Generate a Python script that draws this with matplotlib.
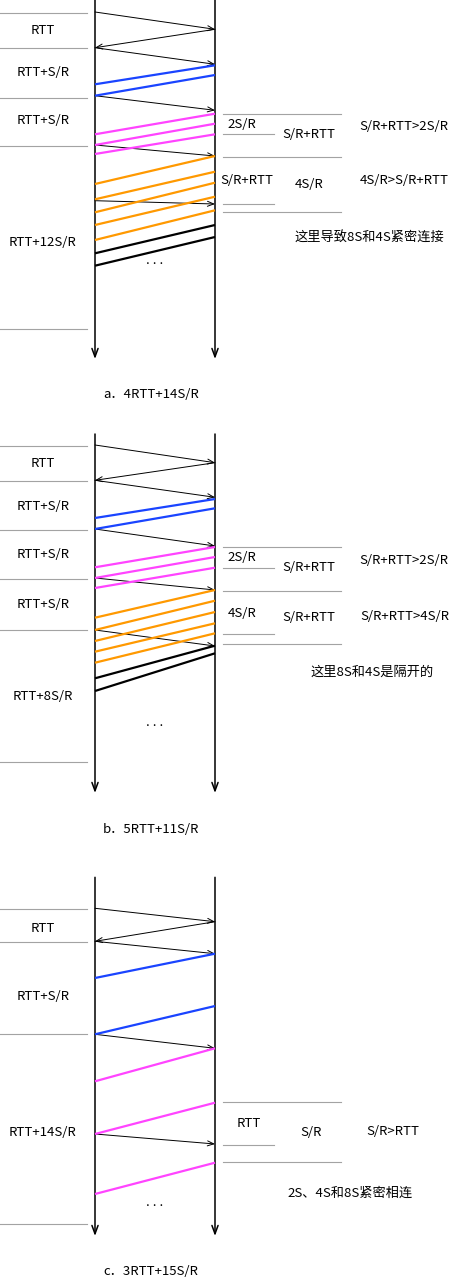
"""Slow-start timing diagrams for three cases (a, b, c)."""

import matplotlib

matplotlib.use("Agg")

import matplotlib.pyplot as plt
from matplotlib.patches import FancyArrowPatch

plt.rcParams["font.family"] = ["Noto Sans CJK SC", "DejaVu Sans"]

# x positions of client / server timelines
X_CLIENT = 95
X_SERVER = 215

GRAY = "#a3a3a3"
BLUE = "#1a44ff"
MAGENTA = "#ff44ff"
ORANGE = "#ff9900"
BLACK = "#000000"

# ---- panel a ----
a_axis = (0, 359)
a_left_rules = [13.3, 48.3, 97.7, 146, 329.3]
a_left_labels = ["RTT", "RTT+S/R", "RTT+S/R", "RTT+12S/R"]
a_left_label_y = [31, 72.7, 120.7, 242.7]
a_requests = [("L", 12, 29.3), ("R", 29.3, 47.7), ("L", 47.7, 64.3),
              ("L", 95.7, 110.3), ("L", 145, 156), ("L", 200.7, 204)]
a_segments = {
    BLUE: ([65.3, 75], [84.3, 95.7]),
    MAGENTA: ([113.7, 123.7, 134.3], [134.3, 145, 154]),
    ORANGE: ([156, 171.7, 182.7, 196.7, 210.3], [184, 199.3, 212.3, 225, 240]),
    BLACK: ([225, 237], [253.3, 265.7]),
}
a_long_rules = [113.7, 157, 212.3]
a_short_rules = [134.3, 204]
a_notes = [("2S/R", 242, 124.3), ("S/R+RTT", 309, 135), ("S/R+RTT>2S/R", 404, 126.7),
           ("S/R+RTT", 246.7, 180), ("4S/R", 309, 185), ("4S/R>S/R+RTT", 404, 181),
           ("这里导致8S和4S紧密连接", 369, 238.7)]
a_dots_y = 262.7
a_caption = ("a．4RTT+14S/R", 395)

# ---- panel b ----
b_axis = (434, 793)
b_left_rules = [446.3, 481.3, 530.3, 579.3, 630.3, 762.3]
b_left_labels = ["RTT", "RTT+S/R", "RTT+S/R", "RTT+S/R", "RTT+8S/R"]
b_left_label_y = [463.3, 506, 555, 604.3, 696]
b_requests = [("L", 445, 462.7), ("R", 462.7, 480.3), ("L", 480.3, 497.3),
              ("L", 529, 546), ("L", 578, 590), ("L", 630, 646)]
b_segments = {
    BLUE: ([499, 508.3], [518, 529]),
    MAGENTA: ([547, 557, 567.7], [567.3, 578, 588]),
    ORANGE: ([590, 600.7, 612, 623.3, 633.3], [617.7, 630, 641, 651.7, 662.7]),
    BLACK: ([645.7, 653.3], [678.3, 691]),
}
b_long_rules = [547.3, 591.3, 644.3]
b_short_rules = [568.3, 634.3]
b_notes = [("2S/R", 242, 557.7), ("S/R+RTT", 309, 567.7), ("S/R+RTT>2S/R", 404, 560),
           ("4S/R", 242, 613.3), ("S/R+RTT", 309, 617.7), ("S/R+RTT>4S/R", 405, 616.7),
           ("这里8S和4S是隔开的", 371.7, 672.7)]
b_dots_y = 725
b_caption = ("b．5RTT+11S/R", 829.3)

# ---- panel c ----
c_axis = (877.3, 1236)
c_left_rules = [909.3, 942, 1034.3, 1224.3]
c_left_labels = ["RTT", "RTT+S/R", "RTT+14S/R"]
c_left_label_y = [928.7, 996, 1132.3]
c_requests = [("L", 908.3, 921.7), ("R", 921.7, 941.3), ("L", 941.3, 953.7),
              ("L", 1034.3, 1048.3), ("L", 1134, 1144)]
c_segments = {
    BLUE: ([953.7, 1006], [978, 1034.3]),
    MAGENTA: ([1048.3, 1102.7, 1162.7], [1081.3, 1134, 1194]),
}
c_long_rules = [1102.3, 1162]
c_short_rules = [1145.3]
c_notes = [("RTT", 249, 1123.3), ("S/R", 311, 1132.3), ("S/R>RTT", 393, 1131.7),
           ("2S、4S和8S紧密相连", 350, 1193.3)]
c_dots_y = 1204
c_caption = ("c．3RTT+15S/R", 1271.7)

FS = 9.5


def arrow(ax, x0, y0, x1, y1, lw, head_len, head_w):
    style = f"->,head_length={head_len},head_width={head_w}"
    ax.add_patch(FancyArrowPatch((x0, y0), (x1, y1), arrowstyle=style,
                                 mutation_scale=10, lw=lw, color="black",
                                 shrinkA=0, shrinkB=0))


def draw_panel(ax, axis, left_rules, labels, label_y, requests, segments,
               long_rules, short_rules, notes, dots_y, caption):
    top, bottom = axis
    for x in (X_CLIENT, X_SERVER):
        arrow(ax, x, top, x, bottom, 1.1, 0.6, 0.22)
    for y in left_rules:
        ax.plot([0, 87], [y, y], color=GRAY, lw=0.8)
    for text, y in zip(labels, label_y):
        ax.text(43, y, text, ha="center", va="center", fontsize=FS)
    for side, y0, y1 in requests:
        if side == "L":
            arrow(ax, X_CLIENT, y0, X_SERVER, y1, 0.7, 0.45, 0.18)
        else:
            arrow(ax, X_SERVER, y0, X_CLIENT, y1, 0.7, 0.45, 0.18)
    for color, (right_y, left_y) in segments.items():
        for yr, yl in zip(right_y, left_y):
            ax.plot([X_SERVER, X_CLIENT], [yr, yl], color=color, lw=1.6,
                    solid_capstyle="butt")
    for y in long_rules:
        ax.plot([223, 341], [y, y], color=GRAY, lw=0.8)
    for y in short_rules:
        ax.plot([223, 274], [y, y], color=GRAY, lw=0.8)
    for text, x, y in notes:
        ax.text(x, y, text, ha="center", va="center", fontsize=FS)
    ax.text(155, dots_y + 1.5, ". . .", ha="center", va="baseline", fontsize=FS)
    ax.text(151, caption[1], caption[0], ha="center", va="center", fontsize=FS)


def main() -> None:
    fig = plt.figure(figsize=(4.53, 12.87), dpi=100)
    ax = fig.add_axes([0, 0, 1, 1])
    ax.set_xlim(0, 453)
    ax.set_ylim(1287, 0)
    ax.axis("off")

    draw_panel(ax, a_axis, a_left_rules, a_left_labels, a_left_label_y,
               a_requests, a_segments, a_long_rules, a_short_rules,
               a_notes, a_dots_y, a_caption)
    draw_panel(ax, b_axis, b_left_rules, b_left_labels, b_left_label_y,
               b_requests, b_segments, b_long_rules, b_short_rules,
               b_notes, b_dots_y, b_caption)
    draw_panel(ax, c_axis, c_left_rules, c_left_labels, c_left_label_y,
               c_requests, c_segments, c_long_rules, c_short_rules,
               c_notes, c_dots_y, c_caption)

    fig.savefig("out.png", dpi=100)
    plt.close(fig)


if __name__ == "__main__":
    main()
